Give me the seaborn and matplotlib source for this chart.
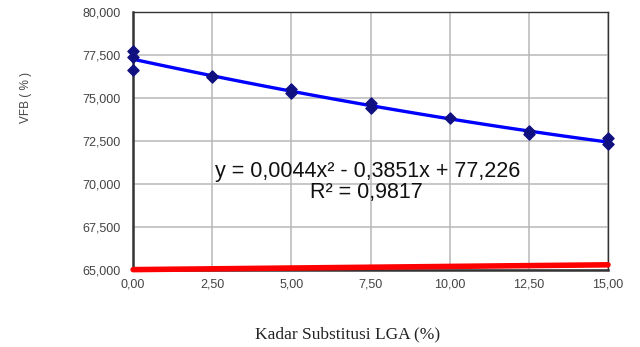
import numpy as np
import pandas as pd
import matplotlib
matplotlib.use('Agg')
import matplotlib.pyplot as plt
import seaborn as sns

# measured points (several samples per substitution level)
kadar = [0.0, 0.0, 0.0, 2.5, 2.5, 5.0, 5.0, 7.5, 7.5, 10.0, 12.5, 12.5, 15.0, 15.0]
vfb = [77.75, 77.40, 76.65, 76.28, 76.24, 75.55, 75.30, 74.74, 74.44, 73.85, 73.06, 72.92, 72.67, 72.30]

# red reference series
ref_x = [0.0, 15.0]
ref_y = [65.02, 65.30]

x_ticks = [0, 2.5, 5, 7.5, 10, 12.5, 15]
y_ticks = [65, 67.5, 70, 72.5, 75, 77.5, 80]

df = pd.DataFrame({'kadar': kadar, 'vfb': vfb})

sns.set_style('white')
plt.rcParams['font.family'] = ['Liberation Sans', 'DejaVu Sans']

fig = plt.figure(figsize=(6.4, 3.47), dpi=100)
ax = fig.add_axes([0.208, 0.222, 0.742, 0.743])

sns.regplot(data=df, x='kadar', y='vfb', order=2, ci=None, ax=ax, marker='D',
            scatter_kws=dict(s=32, color='#101080', alpha=1, zorder=4, clip_on=False),
            line_kws=dict(color='#0000ff', lw=2.4, zorder=3))
sns.lineplot(x=ref_x, y=ref_y, ax=ax, color='#ff0000', lw=4, zorder=5)
ax.lines[-1].set_clip_on(False)

ax.set_xlim(0, 15)
ax.set_ylim(65, 80)
ax.set_xticks(x_ticks)
ax.set_yticks(y_ticks)
ax.set_xticklabels([f'{v:.2f}'.replace('.', ',') for v in x_ticks])
ax.set_yticklabels([f'{v:.3f}'.replace('.', ',') for v in y_ticks])
ax.tick_params(axis='both', labelsize=9, labelcolor='#444444', color='#333333',
               length=3, direction='out')
ax.tick_params(axis='y', pad=6)
ax.grid(True, color='#b8b8b8', lw=1.1)
ax.set_axisbelow(True)

for side in ['left', 'bottom']:
    ax.spines[side].set_color('#333333')
    ax.spines[side].set_linewidth(1.8)
for side in ['top', 'right']:
    ax.spines[side].set_color('#333333')
    ax.spines[side].set_linewidth(1.0)

ax.set_xlabel('')
ax.set_ylabel('')
fig.text(0.04, 0.72, 'VFB ( % )', rotation=90, ha='center', va='center',
         fontsize=8.5, color='#444444')
fig.text(0.543, 0.035, 'Kadar Substitusi LGA (%)', ha='center', va='center',
         fontsize=12.5, color='#222222', family=['Liberation Serif', 'DejaVu Serif'])

ax.text(7.42, 70.70, 'y = 0,0044x² - 0,3851x + 77,226', ha='center', va='center',
        fontsize=15.5, color='#111111')
ax.text(7.36, 69.48, 'R² = 0,9817', ha='center', va='center',
        fontsize=15.5, color='#111111')

fig.savefig('out.png', dpi=100, facecolor='white')
